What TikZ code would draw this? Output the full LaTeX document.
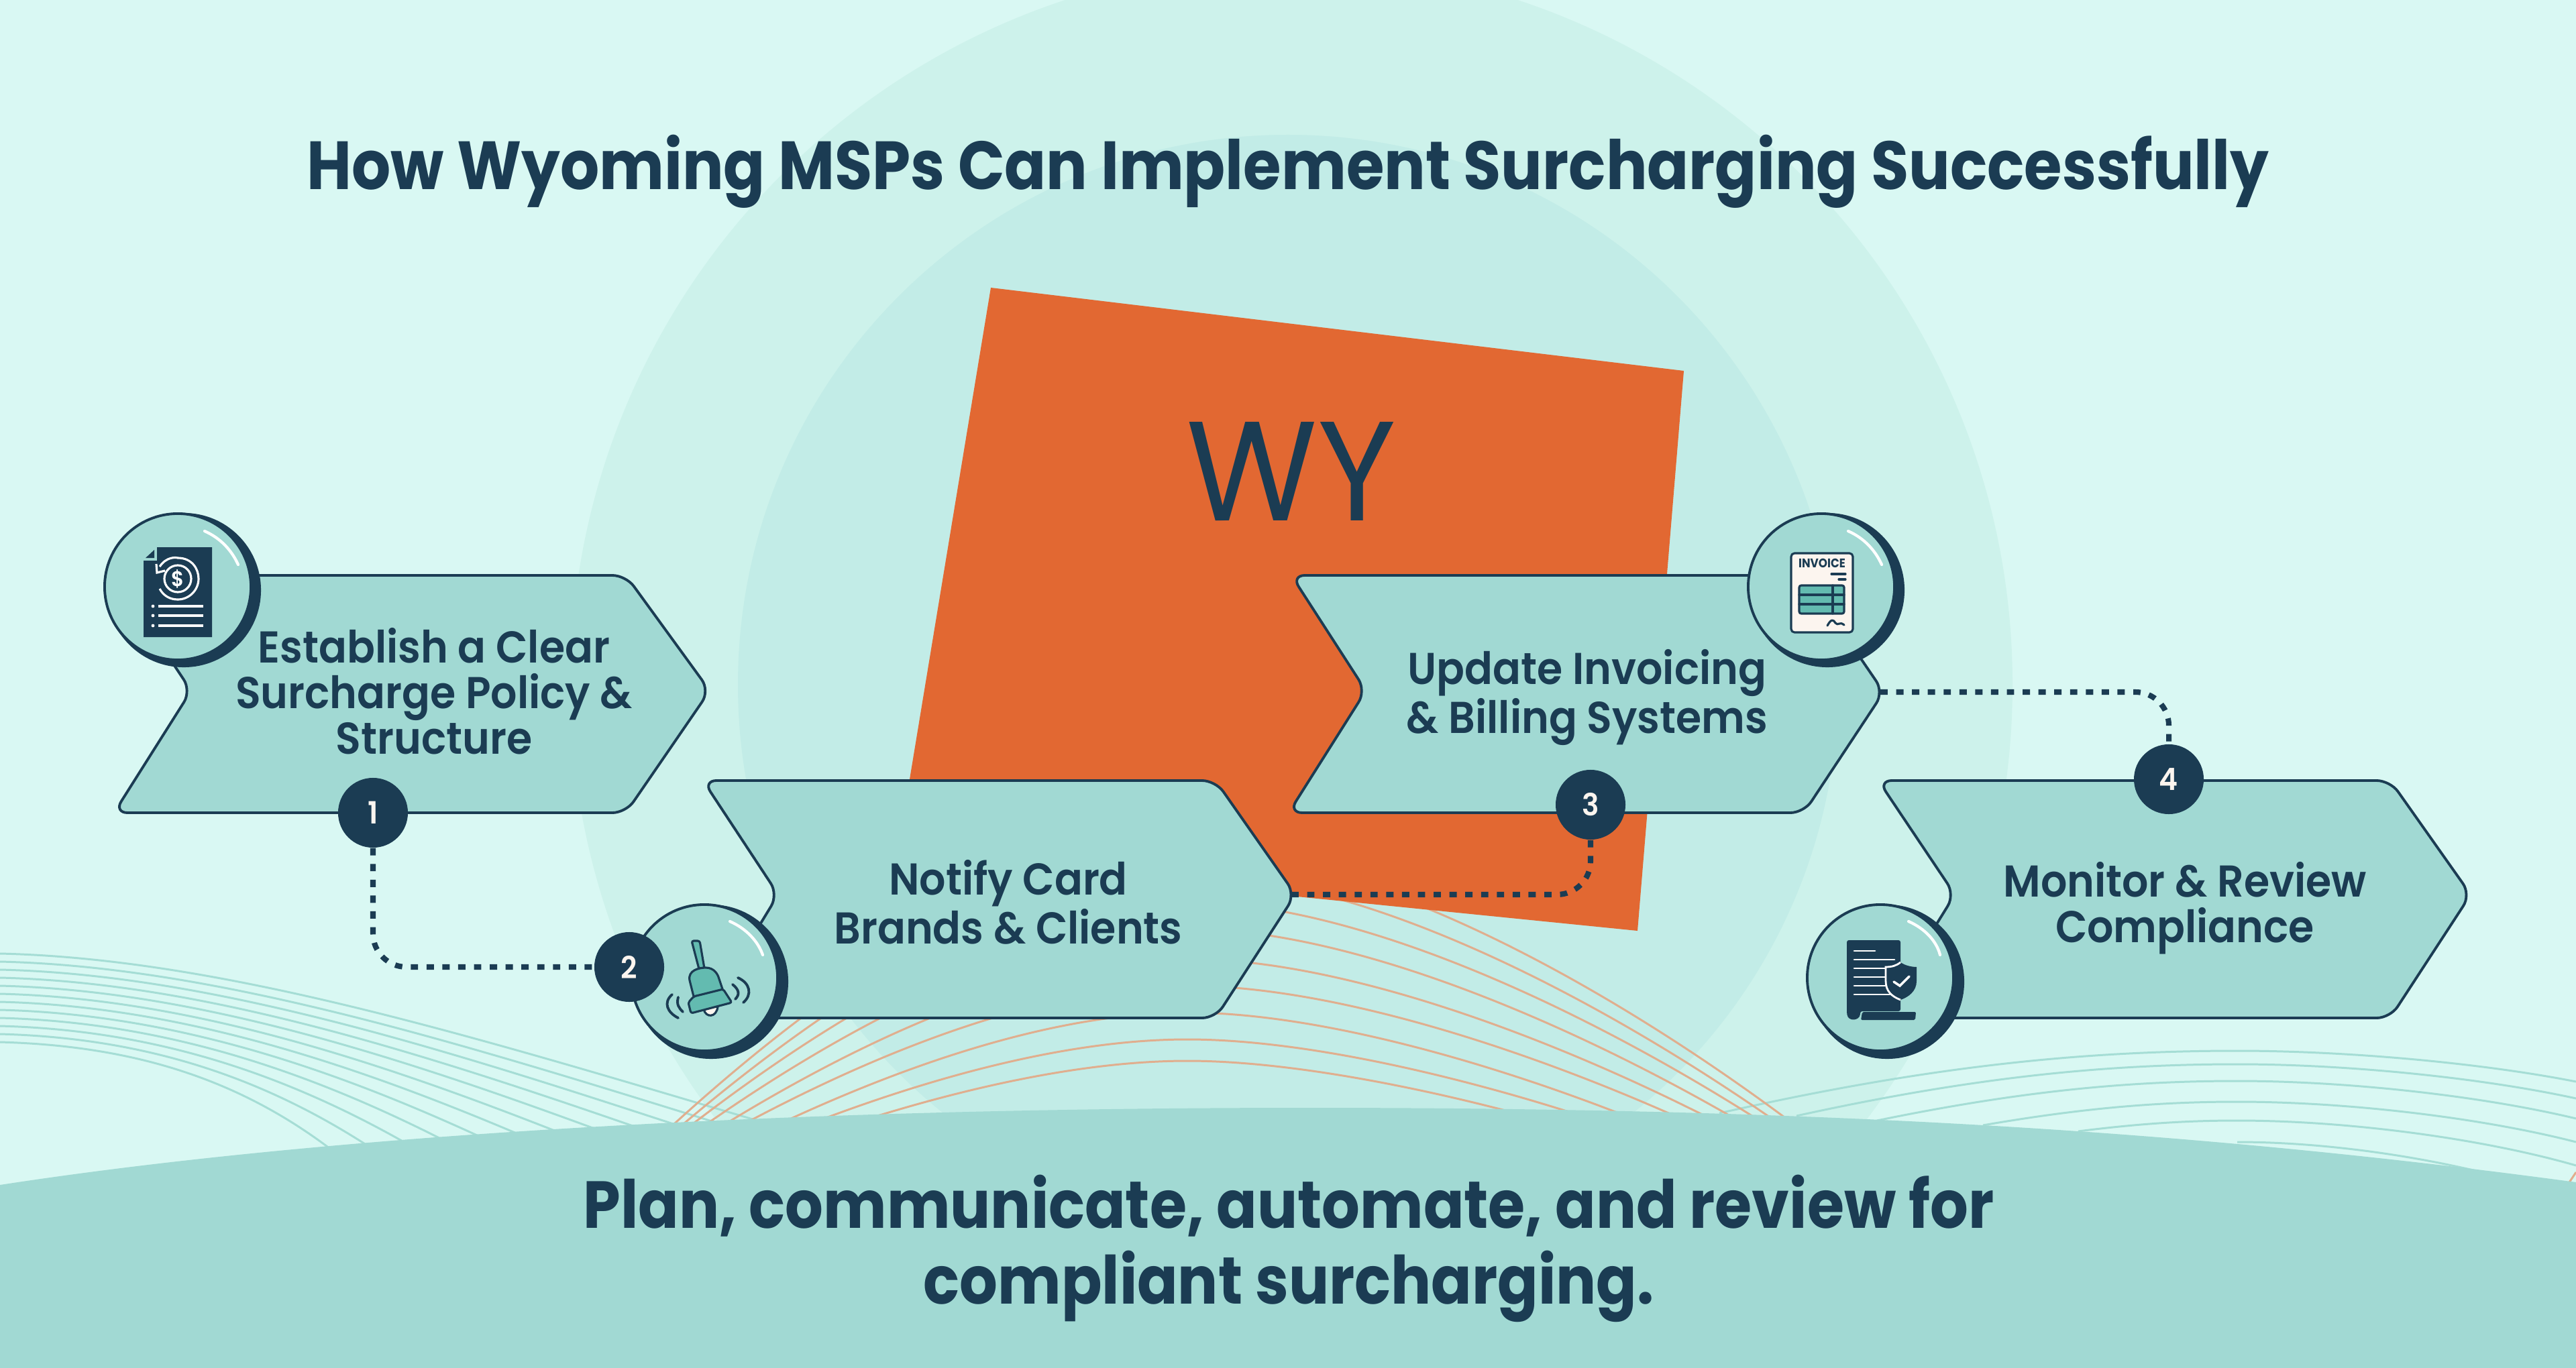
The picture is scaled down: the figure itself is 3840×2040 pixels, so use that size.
\documentclass[tikz,border=0pt]{standalone}
\usepackage{fontspec}
\usetikzlibrary{arrows.meta}
\setmainfont{Poppins}
\newfontfamily\titlefont{Poppins Bold}[FakeStretch=0.9]
\newfontfamily\headfont{Poppins SemiBold}[FakeStretch=0.93]
\newfontfamily\stateface{Poppins}[FakeStretch=0.95]
\definecolor{pagebg}{HTML}{D9F8F3}
\definecolor{ringout}{HTML}{CDF2EB}
\definecolor{ringin}{HTML}{C2ECE7}
\definecolor{hill}{HTML}{A1D9D3}
\definecolor{navy}{HTML}{1B3C53}
\definecolor{statefill}{HTML}{E26832}
\definecolor{lineorange}{HTML}{E0AE8E}
\definecolor{lineteal}{HTML}{A5DDD5}
\definecolor{bellteal}{HTML}{63BBB0}
\definecolor{paper}{HTML}{FCF5EF}
\begin{document}
\begin{tikzpicture}[x=0.01cm,y=-0.01cm]
  \tikzstyle{stepbox}=[fill=hill, draw=navy, line width=1.1pt, rounded corners=0.2cm]
  \tikzstyle{steptext}=[text=navy, align=center, font=\headfont\fontsize{18.9}{19.4}\selectfont]
  \tikzstyle{ball}=[circle, fill=hill, draw=navy, line width=1.1pt, minimum size=2.18cm, inner sep=0pt]
  \tikzstyle{ballshadow}=[circle, fill=navy, minimum size=2.3cm, inner sep=0pt]
  \tikzstyle{shine}=[white, line width=1.2pt, line cap=round]
  \tikzstyle{badge}=[circle, fill=navy, text=paper, minimum size=1.04cm, inner sep=0pt, font=\headfont\fontsize{13}{13}\selectfont]
  \tikzstyle{dotline}=[navy, line width=2.3pt, dash pattern=on 3.1pt off 3.6pt, rounded corners=0.5cm]
  \tikzstyle{iconline}=[navy, line width=0.9pt, line cap=round, line join=round]

  \useasboundingbox (0,0) rectangle (3840,2040);
  \clip (0,0) rectangle (3840,2040);
  \fill[pagebg] (0,0) rectangle (3840,2040);
  \fill[ringout] (1925,1021) circle (1075);
  \fill[ringin] (1920,1021) circle (820);

  % contour lines
  \foreach \i in {0,...,11}{
    \pgfmathsetmacro{\t}{\i/11}
    \draw[lineteal, line width=0.85pt] ({0},{1422+132*\t})
      .. controls ({350-130*\t},{1430+130*\t}) and ({750-370*\t},{1560+60*\t}) .. ({1200-680*\t},{1692+43*\t});
  }
  \foreach \xa/\ya/\yp/\yb in {2563/1660/1567/1613, 2678/1664/1587/1638, 2798/1671/1612/1668,
      2956/1678/1643/1703, 3098/1687/1671/1738, 3335/1703/1703/1790}{
    \draw[lineteal, line width=0.85pt] (\xa,\ya) .. controls ({\xa+0.4*(3335-\xa)},{\ya-0.75*(\ya-\yp)}) and ({3335-0.3*(3335-\xa)},\yp) .. (3335,\yp)
      .. controls (3500,\yp) and (3700,{\yb-0.6*(\yb-\yp)}) .. (3840,\yb);
  }
  \foreach \xa/\xb/\yp in {1006/2672/1270, 1020/2651/1305, 1034/2629/1345, 1055/2598/1385, 1083/2563/1430,
      1111/2521/1470, 1164/2451/1510, 1210/2391/1550, 1273/2314/1582}{
    \draw[lineorange, line width=0.85pt] (\xa,1675) .. controls ({\xa+0.35*(1770-\xa)},{1675-0.6*(1675-\yp)}) and ({1770-0.3*(1770-\xa)},\yp) .. (1770,\yp)
      .. controls ({1770+0.3*(\xb-1770)},\yp) and ({\xb-0.3*(\xb-1770)},{1675-0.5*(1675-\yp)}) .. (\xb,1675);
  }
  \draw[lineorange, line width=0.85pt] (3828,1766) -- (3840,1748);

  % state shape and bottom band
  \fill[statefill] (1477,429) -- (2510,553) -- (2441,1388) -- (1337,1277) -- cycle;
  \node[text=navy, font=\stateface\fontsize{60}{60}\selectfont] (wy) at (1925,703) {WY};
  \fill[hill] (0,1767) .. controls (500,1690) and (1200,1652) .. (1950,1652)
    .. controls (2750,1652) and (3300,1690) .. (3840,1763) -- (3840,2040) -- (0,2040) -- cycle;

  \node[text=navy, anchor=base, font=\titlefont\fontsize{28.9}{28.9}\selectfont] (title) at (1920,283) {How Wyoming MSPs Can Implement Surcharging Successfully};
  \node[text=navy, align=center, font=\titlefont\fontsize{28.2}{32.2}\selectfont] (closing) at (1921,1862) {Plan, communicate, automate, and review for\\compliant surcharging.};

  % step boxes
  \draw[stepbox] (170,858) -- (933,858) -- (1058,1030) -- (933,1212) -- (170,1212) -- (285,1030) -- cycle;
  \coordinate (tipb) at (1925,1334);
  \draw[stepbox] (1048,1164) -- (1812,1164) -- (1931,1334) -- (1812,1518) -- (1048,1518) -- (1160,1334) -- cycle;
  \coordinate (tipc) at (2803,1032);
  \draw[stepbox] (1925,858) -- (2689,858) -- (2808,1032) -- (2689,1212) -- (1921,1212) -- (2036,1030) -- cycle;
  \draw[stepbox] (2800,1164) -- (3563,1164) -- (3683,1334) -- (3563,1518) -- (2800,1518) -- (2914,1334) -- cycle;

  \node[steptext] (stepa) at (647,1031) {Establish a Clear\\Surcharge Policy \&\\Structure};
  \node[steptext] (stepb) at (1503,1345) {Notify Card\\Brands \& Clients};
  \node[steptext] (stepc) at (2366,1040) {Update Invoicing\\\& Billing Systems};
  \node[steptext] (stepd) at (3257,1354) {Monitor \& Review\\Compliance};

  % icon balls
  \node[ballshadow] (sa) at (274,880){};
  \node[ball] (ba) at (265,875){};
  \draw[shine] (305,792) .. controls (330,803) and (346,822) .. (355,842);
  \node[ballshadow] (sb) at (1060,1464){};
  \node[ball] (bb) at (1050,1458){};
  \draw[shine] (1088,1374) .. controls (1113,1385) and (1130,1404) .. (1137,1424);
  \node[ballshadow] (sc) at (2724,880){};
  \node[ball] (bc) at (2715,875){};
  \draw[shine] (2755,792) .. controls (2780,803) and (2796,822) .. (2805,842);
  \node[ballshadow] (sd) at (2813,1464){};
  \node[ball] (bd) at (2803,1458){};
  \draw[shine] (2845,1374) .. controls (2870,1385) and (2887,1404) .. (2892,1424);

  % document with dollar
  \fill[navy] (234,816) -- (316,816) -- (316,950) -- (214,950) -- (214,836) -- (234,836) -- cycle;
  \fill[navy] (217,832) -- (230,832) -- (230,820) -- cycle;
  \draw[white, line width=0.9pt] (265,863) circle (20);
  \draw[white, line width=0.9pt] (238,845) .. controls (248,830) and (262,831) .. (265,832)
    .. controls (286,832) and (296,848) .. (296,863) .. controls (296,880) and (282,894) .. (265,894)
    .. controls (254,894) and (244,889) .. (238,878);
  \draw[white, line width=0.9pt] (233,841) -- (234,854) -- (246,851);
  \node[text=white, font=\headfont\fontsize{9}{9}\selectfont] (dollar) at (265,863) {\$};
  \foreach \y in {904,918,933}{
    \draw[white, line width=1pt] (236,\y) -- (303,\y);
    \fill[white] (228,\y) circle (2.4);
  }

  % bell
  \draw[iconline, fill=bellteal, rounded corners=0.03cm] (1031,1403) -- (1043,1403) -- (1050,1444) -- (1042,1445) -- cycle;
  \draw[iconline, fill=paper] (1049,1505) .. controls (1052,1518) and (1068,1518) .. (1070,1501);
  \draw[iconline, fill=bellteal] (1034,1486) -- (1028,1462) .. controls (1025,1447) and (1042,1443) .. (1052,1443)
    .. controls (1064,1443) and (1070,1452) .. (1072,1460) -- (1078,1478) -- cycle;
  \draw[iconline, fill=bellteal, rounded corners=0.03cm] (1026,1495) -- (1034,1486) -- (1078,1475) -- (1091,1495) -- (1030,1511) -- cycle;
  \draw[iconline, line width=1.1pt] (1002,1483) .. controls (988,1495) and (995,1510) .. (1011,1518);
  \draw[iconline, line width=1.1pt] (1011,1487) .. controls (1008,1498) and (1012,1503) .. (1018,1509);
  \draw[iconline, line width=1.1pt] (1100,1458) .. controls (1118,1466) and (1122,1483) .. (1108,1495);
  \draw[iconline, line width=1.1pt] (1092,1468) .. controls (1102,1476) and (1103,1483) .. (1096,1490);

  % invoice
  \draw[iconline, fill=paper, rounded corners=0.05cm] (2670,825) rectangle (2762,943);
  \node[text=navy, inner sep=0pt, font=\titlefont\fontsize{5.3}{5.3}\selectfont] (invoice) at (2716,840) {INVOICE};
  \draw[iconline] (2730,856) -- (2751,856);
  \draw[iconline] (2741,864) -- (2751,864);
  \draw[iconline, fill=bellteal, rounded corners=0.03cm] (2682,873) rectangle (2749,915);
  \draw[iconline] (2682,887) -- (2749,887);
  \draw[iconline] (2682,901) -- (2749,901);
  \draw[iconline] (2732,873) -- (2732,915);
  \draw[iconline] (2724,933) .. controls (2730,922) and (2733,924) .. (2736,929) .. controls (2740,934) and (2742,926) .. (2749,932);

  % scroll with shield
  \fill[navy, rounded corners=0.03cm] (2753,1402) -- (2833,1402) -- (2833,1508) -- (2773,1508) -- (2773,1510) .. controls (2772,1522) and (2755,1524) .. (2753,1510) -- cycle;
  \fill[navy, rounded corners=0.02cm] (2776,1509) -- (2856,1509) -- (2855,1521) -- (2774,1521) -- cycle;
  \foreach \y/\xe in {1418/2795, 1431/2824, 1444/2814, 1457/2811, 1470/2811, 1483/2817}{
    \draw[white, line width=0.8pt, line cap=round] (2764,\y) -- (\xe,\y);
  }
  \fill[navy] (2833,1435) .. controls (2840,1440) and (2850,1442) .. (2857,1442) -- (2857,1463)
    .. controls (2857,1478) and (2845,1487) .. (2833,1491) .. controls (2820,1486) and (2811,1478) .. (2811,1463) -- (2811,1442)
    .. controls (2820,1442) and (2827,1440) .. (2833,1435) -- cycle;
  \draw[white, line width=0.8pt] (2833,1435) .. controls (2827,1440) and (2820,1442) .. (2811,1442) -- (2811,1463)
    .. controls (2811,1478) and (2820,1486) .. (2833,1491);
  \draw[white, line width=1pt, line cap=round] (2823,1464) -- (2832,1470) -- (2846,1456);

  % number badges and connectors
  \node[badge] (na) at (556,1212) {1};
  \node[badge] (nb) at (938,1442) {2};
  \node[badge] (nc) at (2371,1200) {3};
  \node[badge] (nd) at (3233,1162) {4};
  \draw[dotline] (na.south) |- (nb.west);
  \draw[dotline] (tipb) -| (nc.south);
  \draw[dotline] (tipc) -| (nd.north);
\end{tikzpicture}
\end{document}
